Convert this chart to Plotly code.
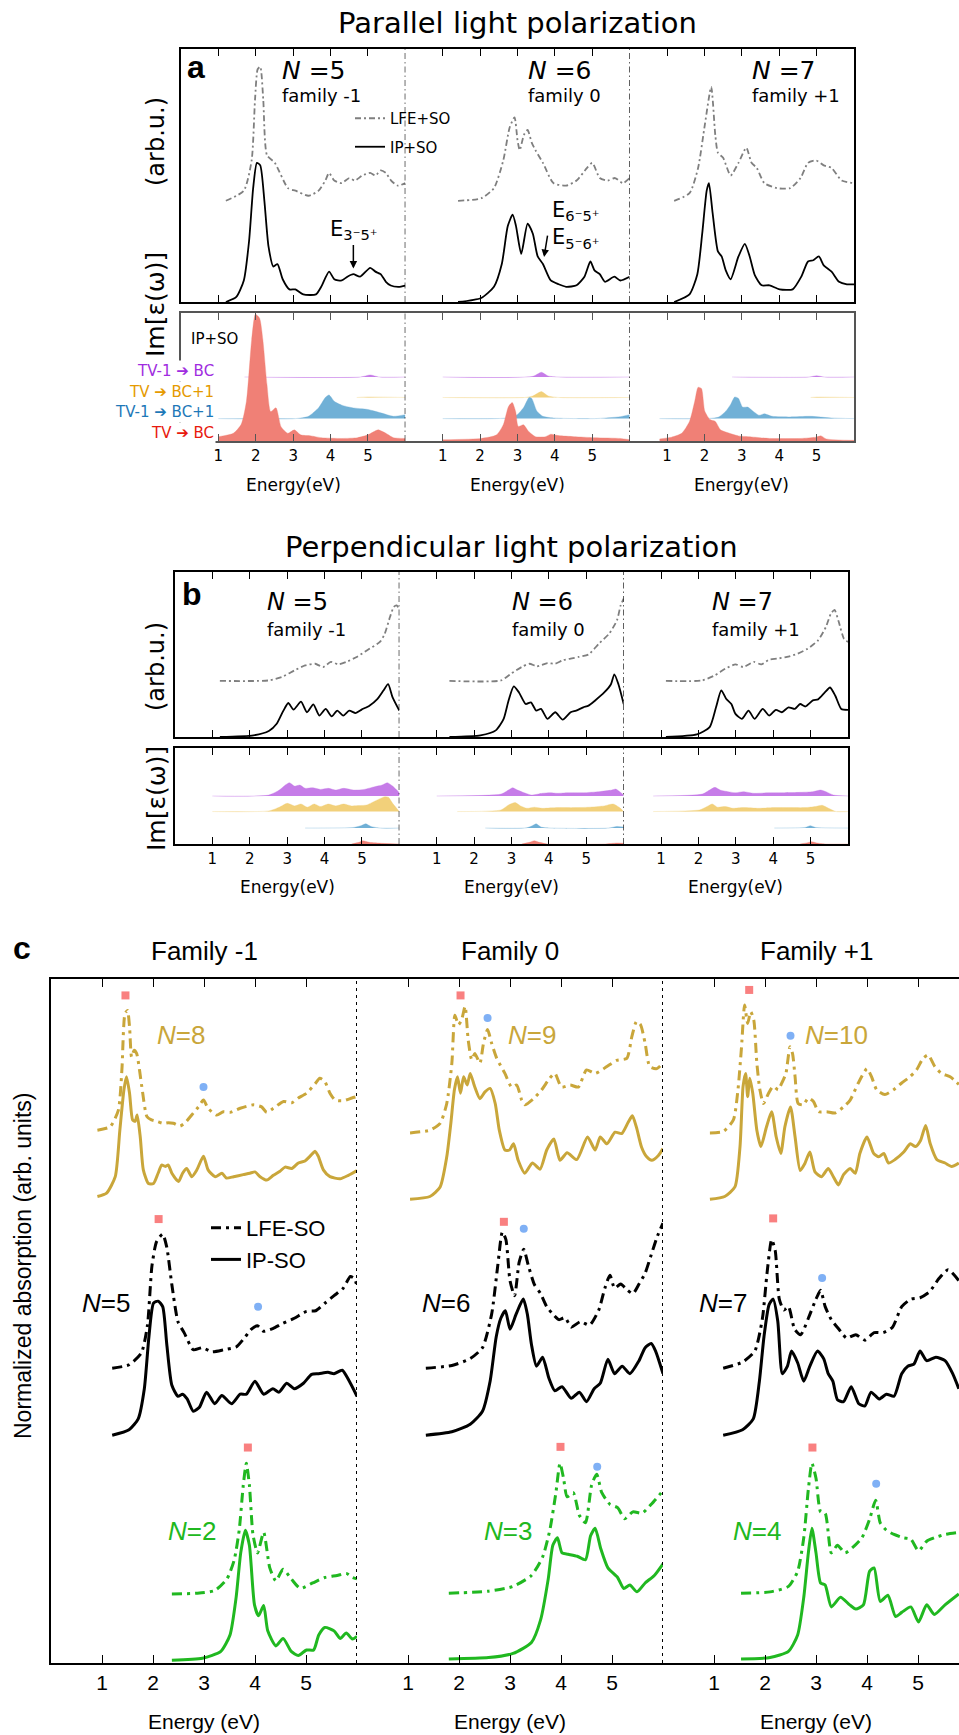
import plotly.graph_objects as go

W, H = 959, 1735
COND = "DejaVu Sans, sans-serif"
HELV = "Liberation Sans, Arial, Helvetica, sans-serif"

# ---------------- data: panel a (parallel), top boxes (energy eV, normalized intensity) -------------
a5_lfe = [(1.2,0.40),(1.68,0.44),(1.89,0.56),(1.98,0.80),(2.05,0.92),(2.12,0.93),(2.2,0.80),(2.3,0.58),
          (2.51,0.55),(2.86,0.45),(3.06,0.44),(3.41,0.42),(3.68,0.44),(3.86,0.48),(3.96,0.51),(4.1,0.48),
          (4.3,0.47),(4.5,0.49),(4.65,0.48),(4.85,0.50),(5.06,0.51),(5.2,0.50),(5.34,0.52),(5.48,0.51),
          (5.62,0.48),(5.8,0.46),(6.0,0.47)]
a5_ip = [(1.2,0.0),(1.48,0.02),(1.68,0.085),(1.82,0.24),(1.93,0.45),(2.03,0.55),(2.12,0.54),(2.23,0.40),
         (2.34,0.22),(2.47,0.14),(2.58,0.15),(2.72,0.09),(2.9,0.05),(3.06,0.05),(3.27,0.03),(3.61,0.03),
         (3.75,0.06),(3.96,0.12),(4.1,0.09),(4.3,0.085),(4.45,0.10),(4.61,0.11),(4.79,0.10),(5.06,0.135),
         (5.2,0.12),(5.34,0.11),(5.48,0.08),(5.61,0.065),(5.82,0.06),(6.0,0.065)]
a6_lfe = [(1.41,0.40),(2.03,0.41),(2.37,0.45),(2.62,0.56),(2.79,0.69),(2.92,0.73),(3.0,0.64),(3.06,0.60),
          (3.17,0.66),(3.27,0.68),(3.38,0.63),(3.48,0.60),(3.68,0.55),(3.96,0.47),(4.3,0.46),(4.58,0.48),
          (4.86,0.53),(5.0,0.55),(5.2,0.49),(5.41,0.48),(5.61,0.49),(5.82,0.47),(6.0,0.49)]
a6_ip = [(1.41,0.0),(2.03,0.016),(2.37,0.06),(2.58,0.15),(2.74,0.30),(2.87,0.345),(2.96,0.30),(3.10,0.19),
         (3.27,0.31),(3.41,0.27),(3.54,0.18),(3.68,0.15),(3.89,0.085),(4.1,0.07),(4.3,0.06),(4.58,0.066),
         (4.79,0.10),(4.95,0.16),(5.06,0.125),(5.2,0.11),(5.34,0.08),(5.59,0.10),(5.75,0.085),(6.0,0.10)]
a7_lfe = [(1.19,0.40),(1.6,0.43),(1.83,0.53),(2.01,0.70),(2.18,0.85),(2.29,0.66),(2.36,0.59),(2.5,0.57),
          (2.7,0.50),(2.91,0.55),(3.12,0.61),(3.26,0.55),(3.4,0.53),(3.6,0.47),(3.94,0.45),(4.29,0.45),
          (4.57,0.49),(4.77,0.55),(4.98,0.56),(5.19,0.54),(5.4,0.53),(5.67,0.48),(6.0,0.47)]
a7_ip = [(1.19,0.0),(1.6,0.03),(1.81,0.11),(1.94,0.27),(2.06,0.44),(2.12,0.47),(2.22,0.35),(2.36,0.20),
         (2.46,0.18),(2.57,0.125),(2.7,0.09),(2.91,0.18),(3.08,0.23),(3.21,0.18),(3.35,0.105),(3.53,0.066),
         (3.74,0.066),(4.01,0.05),(4.36,0.05),(4.59,0.10),(4.77,0.16),(4.91,0.165),(5.06,0.18),(5.19,0.145),
         (5.4,0.12),(5.6,0.08),(5.81,0.07),(6.0,0.07)]

# panel a, bottom boxes: transition-resolved contributions (offset above their own baseline)
a5_tvbc = [(1.0,0.034),(1.4,0.06),(1.61,0.13),(1.75,0.31),(1.89,0.79),(1.99,0.99),(2.1,0.96),(2.19,0.79),
           (2.3,0.44),(2.4,0.23),(2.54,0.26),(2.68,0.11),(2.86,0.06),(3.03,0.087),(3.2,0.048),(3.48,0.04),
           (3.75,0.026),(4.3,0.02),(4.72,0.026),(5.0,0.048),(5.27,0.087),(5.48,0.06),(5.68,0.026),(6.0,0.02)]
a5_tv1bc1 = [(1.0,0.0),(3.06,0.0),(3.41,0.018),(3.68,0.085),(3.86,0.165),(3.96,0.185),(4.1,0.135),(4.3,0.105),
             (4.58,0.085),(5.0,0.071),(5.34,0.045),(5.68,0.018),(6.0,0.031)]
a5_tvbc1 = [(4.7,0.0),(5.0,0.004),(6.0,0.0)]
a5_tv1bc = [(1.7,0.0),(4.8,0.0),(5.06,0.016),(5.3,0.0),(6.0,0.0)]
a6_tvbc = [(1.0,0.01),(2.03,0.02),(2.44,0.048),(2.62,0.127),(2.76,0.27),(2.86,0.30),(2.95,0.23),(3.02,0.114),
           (3.16,0.127),(3.3,0.074),(3.48,0.034),(3.75,0.034),(3.89,0.053),(4.1,0.042),(4.51,0.034),
           (5.06,0.026),(5.75,0.02),(6.0,0.01)]
a6_tv1bc1 = [(1.0,0.0),(2.72,0.005),(2.99,0.031),(3.16,0.085),(3.31,0.165),(3.38,0.158),(3.52,0.058),
             (3.68,0.018),(3.96,0.005),(5.06,0.0),(5.75,0.015),(6.0,0.031)]
a6_tvbc1 = [(1.0,0.0),(3.2,0.0),(3.41,0.012),(3.64,0.046),(3.82,0.012),(4.1,0.0),(6.0,0.0)]
a6_tv1bc = [(1.0,0.0),(3.41,0.005),(3.64,0.037),(3.82,0.008),(4.1,0.0),(6.0,0.0)]
a7_tvbc = [(0.8,0.016),(1.12,0.03),(1.39,0.06),(1.6,0.153),(1.74,0.31),(1.83,0.42),(1.92,0.41),(2.01,0.233),
           (2.15,0.167),(2.29,0.153),(2.43,0.087),(2.61,0.066),(2.91,0.04),(3.19,0.034),(3.74,0.02),
           (4.57,0.02),(4.98,0.03),(5.12,0.04),(5.26,0.016),(6.0,0.005)]
a7_tv1bc1 = [(0.8,0.0),(2.36,0.01),(2.57,0.058),(2.7,0.111),(2.81,0.169),(2.91,0.158),(3.02,0.09),(3.16,0.09),
             (3.3,0.058),(3.46,0.026),(3.6,0.037),(3.81,0.018),(4.29,0.013),(4.84,0.018),(5.39,0.005),(6.0,0.0)]
a7_tvbc1 = [(4.84,0.0),(5.0,0.003),(6.0,0.0)]
a7_tv1bc = [(2.74,0.0),(4.8,0.0),(5.0,0.01),(5.2,0.0),(6.0,0.0)]

# ---------------- panel b (perpendicular) ----------------
b5_lfe = [(1.2,0.34),(2.51,0.343),(2.86,0.364),(3.2,0.404),(3.48,0.434),(3.75,0.444),(3.96,0.424),(4.17,0.455),
          (4.37,0.44),(4.58,0.455),(4.86,0.485),(5.13,0.525),(5.48,0.576),(5.61,0.626),(5.75,0.727),
          (5.85,0.788),(5.93,0.798),(6.0,0.768)]
b5_ip = [(1.2,0.0),(2.1,0.01),(2.51,0.036),(2.72,0.08),(2.9,0.16),(3.03,0.206),(3.17,0.166),(3.37,0.214),
         (3.53,0.15),(3.7,0.198),(3.86,0.13),(4.03,0.17),(4.19,0.125),(4.34,0.16),(4.5,0.13),(4.66,0.16),
         (4.83,0.145),(4.99,0.166),(5.2,0.19),(5.41,0.23),(5.57,0.28),(5.7,0.32),(5.82,0.24),(6.0,0.16)]
b6_lfe = [(1.34,0.34),(2.72,0.343),(2.99,0.384),(3.27,0.424),(3.48,0.444),(3.68,0.428),(3.96,0.448),(4.17,0.444),
          (4.37,0.465),(4.58,0.475),(4.79,0.485),(5.06,0.50),(5.34,0.566),(5.61,0.626),(5.82,0.707),
          (5.92,0.798),(6.0,0.838)]
b6_ip = [(1.34,0.0),(2.17,0.01),(2.58,0.04),(2.79,0.11),(2.92,0.22),(3.06,0.307),(3.2,0.27),(3.38,0.20),
         (3.52,0.21),(3.66,0.16),(3.79,0.17),(3.96,0.11),(4.17,0.15),(4.37,0.105),(4.58,0.15),(4.73,0.16),
         (4.92,0.18),(5.06,0.19),(5.23,0.22),(5.48,0.27),(5.66,0.32),(5.75,0.38),(5.86,0.32),(6.0,0.20)]
b7_lfe = [(1.13,0.34),(2.1,0.343),(2.44,0.374),(2.72,0.414),(2.99,0.44),(3.2,0.424),(3.48,0.455),(3.68,0.44),
          (3.89,0.469),(4.1,0.475),(4.37,0.485),(4.65,0.505),(4.92,0.535),(5.2,0.586),(5.41,0.667),
          (5.54,0.747),(5.64,0.77),(5.75,0.70),(5.89,0.596),(6.0,0.576)]
b7_ip = [(1.13,0.0),(1.96,0.016),(2.3,0.06),(2.47,0.18),(2.61,0.283),(2.74,0.232),(2.88,0.20),(2.99,0.14),
         (3.16,0.11),(3.34,0.16),(3.5,0.11),(3.72,0.17),(3.89,0.13),(4.07,0.165),(4.23,0.15),(4.41,0.18),
         (4.58,0.17),(4.72,0.20),(4.86,0.185),(5.06,0.222),(5.2,0.228),(5.38,0.27),(5.52,0.30),(5.66,0.25),
         (5.82,0.17),(6.0,0.165)]

b5_tv1bc = [(1.0,0.0),(2.51,0.01),(2.79,0.062),(2.95,0.114),(3.06,0.138),(3.2,0.103),(3.34,0.114),(3.48,0.08),
            (3.68,0.086),(3.89,0.069),(4.1,0.08),(4.3,0.062),(4.51,0.08),(4.79,0.062),(5.06,0.069),(5.34,0.097),
            (5.54,0.114),(5.68,0.138),(5.82,0.103),(6.0,0.034)]
b5_tvbc1 = [(1.0,0.0),(2.51,0.007),(2.79,0.045),(3.0,0.086),(3.2,0.059),(3.37,0.079),(3.54,0.045),(3.72,0.079),
            (3.89,0.052),(4.1,0.079),(4.3,0.059),(4.51,0.079),(4.72,0.059),(4.92,0.062),(5.13,0.069),
            (5.41,0.121),(5.61,0.155),(5.71,0.148),(5.82,0.086),(6.0,0.0)]
b5_tv1bc1 = [(3.48,0.0),(4.79,0.007),(4.99,0.027),(5.1,0.044),(5.24,0.017),(5.48,0.0),(6.0,0.0)]
b5_tvbc = [(4.72,0.0),(4.92,0.017),(5.02,0.034),(5.2,0.017),(5.55,0.007),(6.0,0.0)]
b6_tv1bc = [(1.0,0.0),(2.72,0.02),(2.92,0.062),(3.03,0.086),(3.16,0.062),(3.34,0.034),(3.54,0.01),(3.82,0.028),
            (4.03,0.034),(4.23,0.028),(4.51,0.034),(4.92,0.034),(5.34,0.045),(5.68,0.062),(5.79,0.072),(6.0,0.01)]
b6_tvbc1 = [(1.55,0.0),(2.72,0.017),(2.92,0.069),(3.1,0.093),(3.24,0.059),(3.41,0.034),(3.61,0.045),(3.82,0.034),
            (4.23,0.041),(4.65,0.041),(5.06,0.045),(5.48,0.059),(5.72,0.079),(5.89,0.041),(6.0,0.0)]
b6_tv1bc1 = [(2.3,0.0),(3.41,0.003),(3.57,0.027),(3.66,0.044),(3.79,0.01),(4.03,0.0),(5.6,0.0),(5.82,0.017),(6.0,0.01)]
b6_tvbc = [(3.27,0.0),(3.48,0.017),(3.61,0.034),(3.75,0.017),(3.96,0.0),(5.48,0.0),(5.82,0.01),(6.0,0.007)]
b7_tv1bc = [(0.79,0.0),(2.1,0.02),(2.3,0.062),(2.44,0.09),(2.58,0.062),(2.79,0.045),(2.99,0.034),(3.2,0.045),
            (3.48,0.028),(3.89,0.034),(4.3,0.034),(4.72,0.038),(5.06,0.045),(5.27,0.062),(5.41,0.045),
            (5.61,0.01),(6.0,0.0)]
b7_tvbc1 = [(0.79,0.0),(2.03,0.017),(2.23,0.052),(2.37,0.079),(2.51,0.045),(2.72,0.052),(2.92,0.034),(3.2,0.041),
            (3.61,0.034),(4.03,0.041),(4.44,0.041),(4.86,0.041),(5.13,0.052),(5.31,0.065),(5.48,0.034),
            (5.68,0.0),(6.0,0.0)]
b7_tv1bc1 = [(4.03,0.0),(4.86,0.007),(4.99,0.024),(5.13,0.007),(6.0,0.0)]
b7_tvbc = [(4.72,0.0),(4.92,0.014),(5.03,0.024),(5.17,0.01),(5.41,0.0),(6.0,0.0)]

# ---------------- panel c (normalized absorption, stacked) ----------------
c8_lfe = [(0.91,0.779),(1.16,0.784),(1.32,0.808),(1.39,0.867),(1.45,0.949),(1.5,0.954),(1.54,0.93),(1.58,0.886),
          (1.63,0.896),(1.68,0.891),(1.78,0.843),(1.88,0.799),(1.97,0.794),(2.07,0.792),(2.2,0.789),(2.3,0.79),
          (2.4,0.789),(2.53,0.785),(2.63,0.79),(2.79,0.804),(2.89,0.813),(2.99,0.823),(3.08,0.811),(3.25,0.801),
          (3.38,0.806),(3.51,0.805),(3.71,0.811),(3.97,0.816),(4.13,0.813),(4.23,0.805),(4.36,0.811),(4.56,0.821),
          (4.72,0.819),(4.85,0.826),(5.01,0.833),(5.18,0.847),(5.27,0.855),(5.37,0.85),(5.47,0.833),(5.57,0.823),
          (5.73,0.822),(5.9,0.826),(6.0,0.828)]
c8_ip = [(0.91,0.682),(1.09,0.687),(1.26,0.711),(1.35,0.779),(1.43,0.838),(1.48,0.857),(1.54,0.833),(1.6,0.794),
         (1.65,0.792),(1.69,0.801),(1.75,0.769),(1.81,0.721),(1.91,0.701),(2.01,0.701),(2.1,0.716),(2.17,0.728),
         (2.24,0.726),(2.3,0.728),(2.37,0.716),(2.5,0.704),(2.58,0.716),(2.66,0.723),(2.76,0.711),(2.86,0.721),
         (2.99,0.741),(3.08,0.721),(3.22,0.711),(3.35,0.716),(3.44,0.709),(3.58,0.711),(3.77,0.714),(3.9,0.716),
         (4.0,0.718),(4.1,0.711),(4.23,0.706),(4.36,0.713),(4.49,0.719),(4.59,0.725),(4.72,0.723),(4.85,0.731),
         (4.98,0.734),(5.08,0.741),(5.18,0.748),(5.24,0.741),(5.34,0.721),(5.47,0.711),(5.67,0.708),(5.83,0.713),
         (6.0,0.72)]
c5_lfe = [(1.2,0.431),(1.53,0.436),(1.77,0.453),(1.89,0.493),(1.98,0.581),(2.07,0.616),(2.19,0.627),(2.27,0.608),
          (2.37,0.553),(2.49,0.499),(2.61,0.483),(2.79,0.458),(2.97,0.461),(3.15,0.455),(3.39,0.458),(3.63,0.462),
          (3.81,0.477),(3.93,0.488),(4.05,0.493),(4.17,0.485),(4.35,0.489),(4.53,0.496),(4.77,0.504),(5.01,0.514),
          (5.19,0.515),(5.37,0.526),(5.55,0.537),(5.73,0.548),(5.87,0.565),(5.95,0.562),(6.0,0.551)]
c5_ip = [(1.2,0.333),(1.53,0.341),(1.71,0.357),(1.83,0.401),(1.92,0.477),(2.01,0.526),(2.1,0.529),(2.19,0.521),
         (2.27,0.466),(2.37,0.406),(2.49,0.39),(2.58,0.393),(2.67,0.386),(2.79,0.368),(2.91,0.374),(3.05,0.396),
         (3.21,0.379),(3.35,0.391),(3.54,0.379),(3.71,0.393),(3.83,0.393),(4.0,0.412),(4.17,0.393),(4.35,0.401),
         (4.47,0.396),(4.62,0.409),(4.77,0.401),(4.95,0.409),(5.11,0.422),(5.25,0.423),(5.43,0.425),(5.55,0.423),
         (5.71,0.428),(5.85,0.412),(6.0,0.39)]
c2_lfe = [(2.37,0.101),(2.85,0.102),(3.21,0.106),(3.45,0.123),(3.59,0.15),(3.69,0.194),(3.77,0.26),(3.83,0.292),
          (3.89,0.26),(3.96,0.188),(4.05,0.161),(4.17,0.191),(4.29,0.139),(4.41,0.12),(4.55,0.137),(4.71,0.123),
          (4.89,0.109),(5.13,0.117),(5.37,0.125),(5.61,0.128),(5.79,0.131),(5.91,0.125),(6.0,0.123)]
c2_ip = [(2.37,0.004),(2.97,0.007),(3.33,0.017),(3.51,0.041),(3.63,0.096),(3.72,0.161),(3.81,0.194),(3.89,0.172),
         (3.99,0.085),(4.07,0.069),(4.17,0.084),(4.25,0.047),(4.41,0.025),(4.55,0.036),(4.71,0.017),(4.85,0.011),
         (5.01,0.019),(5.15,0.019),(5.25,0.041),(5.37,0.052),(5.55,0.047),(5.67,0.036),(5.79,0.044),(5.91,0.035),
         (6.0,0.039)]
c9_lfe = [(1.04,0.775),(1.43,0.779),(1.63,0.789),(1.76,0.818),(1.86,0.877),(1.92,0.947),(1.99,0.933),(2.05,0.94),
          (2.12,0.96),(2.18,0.911),(2.25,0.882),(2.31,0.891),(2.41,0.877),(2.48,0.906),(2.56,0.926),(2.64,0.906),
          (2.74,0.884),(2.9,0.862),(3.03,0.842),(3.13,0.845),(3.23,0.823),(3.29,0.816),(3.46,0.825),(3.62,0.838),
          (3.78,0.855),(3.88,0.862),(4.01,0.842),(4.18,0.845),(4.34,0.842),(4.5,0.867),(4.67,0.862),(4.9,0.872),
          (5.09,0.881),(5.29,0.884),(5.39,0.916),(5.48,0.938),(5.56,0.933),(5.65,0.906),(5.74,0.872),(5.88,0.869),
          (6.0,0.877)]
c9_ip = [(1.04,0.678),(1.43,0.682),(1.63,0.696),(1.76,0.74),(1.84,0.789),(1.91,0.838),(1.97,0.857),(2.03,0.833),
         (2.09,0.857),(2.16,0.845),(2.22,0.862),(2.31,0.842),(2.41,0.825),(2.51,0.835),(2.61,0.84),(2.71,0.818),
         (2.79,0.779),(2.9,0.75),(2.99,0.75),(3.07,0.759),(3.16,0.735),(3.29,0.716),(3.44,0.731),(3.59,0.722),
         (3.72,0.75),(3.86,0.766),(3.98,0.735),(4.12,0.746),(4.31,0.736),(4.52,0.769),(4.67,0.75),(4.77,0.769),
         (4.9,0.759),(5.06,0.776),(5.19,0.774),(5.32,0.791),(5.4,0.8),(5.48,0.783),(5.58,0.754),(5.68,0.74),
         (5.78,0.735),(5.91,0.742),(6.0,0.752)]
c6_lfe = [(1.35,0.431),(1.86,0.435),(2.22,0.445),(2.46,0.461),(2.64,0.51),(2.76,0.581),(2.85,0.63),(2.92,0.619),
          (3.0,0.559),(3.09,0.537),(3.18,0.586),(3.27,0.605),(3.36,0.581),(3.48,0.553),(3.6,0.54),(3.72,0.521),
          (3.84,0.51),(3.96,0.502),(4.08,0.505),(4.2,0.491),(4.38,0.499),(4.56,0.494),(4.74,0.516),(4.86,0.548),
          (4.96,0.567),(5.05,0.548),(5.17,0.554),(5.29,0.546),(5.41,0.54),(5.53,0.554),(5.65,0.57),(5.77,0.597),
          (5.89,0.624),(6.0,0.643)]
c6_ip = [(1.35,0.333),(1.86,0.338),(2.22,0.349),(2.46,0.368),(2.61,0.412),(2.73,0.477),(2.82,0.504),(2.91,0.515),
         (3.0,0.488),(3.12,0.51),(3.26,0.532),(3.34,0.51),(3.42,0.466),(3.52,0.434),(3.64,0.447),(3.76,0.417),
         (3.88,0.398),(4.02,0.404),(4.2,0.387),(4.36,0.396),(4.5,0.382),(4.65,0.401),(4.77,0.409),(4.92,0.444),
         (5.05,0.423),(5.2,0.434),(5.35,0.423),(5.53,0.442),(5.65,0.461),(5.77,0.467),(5.86,0.455),(6.0,0.423)]
c3_lfe = [(1.8,0.102),(2.58,0.105),(3.06,0.112),(3.42,0.128),(3.64,0.155),(3.78,0.194),(3.9,0.249),(3.98,0.292),
          (4.05,0.27),(4.12,0.243),(4.24,0.249),(4.36,0.216),(4.48,0.205),(4.6,0.26),(4.7,0.276),(4.8,0.249),
          (4.96,0.232),(5.11,0.227),(5.25,0.211),(5.41,0.221),(5.59,0.219),(5.77,0.232),(6.0,0.252)]
c3_ip = [(1.8,0.006),(2.58,0.008),(3.06,0.014),(3.42,0.03),(3.6,0.063),(3.75,0.123),(3.84,0.172),(3.93,0.183),
         (4.02,0.161),(4.14,0.159),(4.32,0.156),(4.48,0.151),(4.58,0.186),(4.67,0.197),(4.78,0.167),(4.92,0.139),
         (5.11,0.125),(5.23,0.109),(5.35,0.114),(5.49,0.104),(5.65,0.117),(5.83,0.128),(6.0,0.145)]
c10_lfe = [(0.92,0.775),(1.18,0.777),(1.38,0.794),(1.47,0.838),(1.54,0.901),(1.6,0.962),(1.66,0.935),(1.72,0.952),
           (1.78,0.94),(1.84,0.877),(1.9,0.838),(1.97,0.818),(2.07,0.833),(2.16,0.843),(2.26,0.838),(2.33,0.848),
           (2.41,0.862),(2.49,0.901),(2.54,0.891),(2.59,0.857),(2.65,0.818),(2.75,0.816),(2.85,0.826),(2.95,0.821),
           (3.05,0.806),(3.21,0.806),(3.37,0.804),(3.54,0.813),(3.67,0.823),(3.83,0.848),(4.0,0.869),(4.09,0.857),
           (4.19,0.838),(4.35,0.831),(4.52,0.838),(4.68,0.848),(4.84,0.857),(4.97,0.867),(5.1,0.884),(5.2,0.889),
           (5.33,0.872),(5.46,0.862),(5.63,0.857),(5.8,0.846)]
c10_ip = [(0.92,0.678),(1.21,0.682),(1.41,0.696),(1.51,0.755),(1.57,0.843),(1.62,0.862),(1.66,0.828),(1.7,0.855),
          (1.76,0.833),(1.84,0.779),(1.92,0.755),(2.03,0.784),(2.13,0.806),(2.22,0.769),(2.31,0.745),(2.39,0.784),
          (2.5,0.813),(2.59,0.769),(2.69,0.72),(2.78,0.73),(2.88,0.747),(2.98,0.718),(3.11,0.711),(3.24,0.723),
          (3.34,0.711),(3.44,0.699),(3.54,0.714),(3.67,0.723),(3.77,0.716),(3.86,0.745),(4.0,0.769),(4.13,0.745),
          (4.23,0.74),(4.33,0.745),(4.42,0.731),(4.55,0.736),(4.72,0.747),(4.85,0.759),(4.95,0.755),(5.05,0.764),
          (5.15,0.786),(5.24,0.759),(5.37,0.736),(5.53,0.731),(5.66,0.726),(5.8,0.731)]
c7_lfe = [(1.18,0.431),(1.56,0.44),(1.8,0.456),(1.95,0.504),(2.04,0.57),(2.13,0.619),(2.2,0.603),(2.28,0.532),
          (2.37,0.516),(2.46,0.521),(2.58,0.488),(2.7,0.48),(2.85,0.504),(3.0,0.532),(3.09,0.545),(3.18,0.521),
          (3.3,0.502),(3.45,0.488),(3.6,0.475),(3.78,0.48),(3.96,0.472),(4.14,0.483),(4.32,0.483),(4.5,0.491),
          (4.68,0.521),(4.86,0.532),(5.04,0.534),(5.23,0.543),(5.41,0.562),(5.59,0.575),(5.8,0.559)]
c7_ip = [(1.18,0.333),(1.56,0.341),(1.77,0.357),(1.89,0.412),(1.98,0.477),(2.08,0.524),(2.16,0.532),(2.25,0.5),
         (2.34,0.423),(2.44,0.434),(2.52,0.456),(2.64,0.439),(2.76,0.412),(2.88,0.434),(3.03,0.456),(3.15,0.445),
         (3.24,0.423),(3.33,0.412),(3.42,0.385),(3.54,0.382),(3.69,0.404),(3.84,0.379),(3.96,0.376),(4.08,0.396),
         (4.24,0.386),(4.38,0.393),(4.53,0.39),(4.68,0.423),(4.8,0.434),(4.92,0.437),(5.04,0.456),(5.17,0.442),
         (5.35,0.447),(5.53,0.442),(5.68,0.423),(5.8,0.401)]
c4_lfe = [(1.53,0.102),(2.1,0.104),(2.46,0.112),(2.64,0.134),(2.76,0.183),(2.85,0.254),(2.92,0.292),(3.0,0.27),
          (3.09,0.221),(3.18,0.219),(3.3,0.161),(3.42,0.172),(3.57,0.161),(3.72,0.169),(3.9,0.183),(4.05,0.21),
          (4.17,0.238),(4.26,0.205),(4.38,0.194),(4.53,0.188),(4.72,0.183),(4.86,0.181),(5.01,0.164),(5.17,0.178),
          (5.32,0.183),(5.53,0.188),(5.8,0.191)]
c4_ip = [(1.53,0.006),(2.1,0.008),(2.46,0.017),(2.64,0.041),(2.76,0.096),(2.85,0.161),(2.92,0.197),(3.0,0.161),
         (3.09,0.117),(3.18,0.114),(3.3,0.082),(3.48,0.096),(3.66,0.085),(3.78,0.079),(3.93,0.085),(4.05,0.134),
         (4.14,0.139),(4.26,0.09),(4.41,0.099),(4.56,0.068),(4.68,0.074),(4.86,0.082),(5.01,0.06),(5.17,0.085),
         (5.32,0.071),(5.53,0.085),(5.8,0.101)]

# marker positions (energy, normalized height): squares and circles of panel c
c_sq_fm1 = [(1.46,0.976),(2.11,0.649),(3.86,0.315)]
c_ci_fm1 = [(2.99,0.842),(4.06,0.521)]
c_sq_f0 = [(2.03,0.976),(2.88,0.645),(3.99,0.316)]
c_ci_f0 = [(2.56,0.943),(3.27,0.635),(4.71,0.287)]
c_sq_fp1 = [(1.69,0.984),(2.16,0.65),(2.93,0.315)]
c_ci_fp1 = [(2.5,0.917),(3.12,0.563),(4.18,0.262)]

tick_vals = [1, 2, 3, 4, 5]
tick_text = ["1", "2", "3", "4", "5"]
ab_names = ["<i>N</i> =5", "<i>N</i> =6", "<i>N</i> =7"]
ab_families = ["family -1", "family 0", "family +1"]
c_families = ["Family -1", "Family 0", "Family +1"]
transition_labels = ["TV-1 ➔ BC", "TV ➔ BC+1", "TV-1 ➔ BC+1", "TV ➔ BC"]

# ---------------- styling ----------------
GRAY = "#7f7f7f"
GOLD = "#C9A63A"
GREEN = "#20B820"
SQ = "#F98080"
CI = "#7FB0F5"
FILLS = {"pur": ("rgb(198,124,232)", "rgba(198,124,232,0.35)"),
         "yel": ("rgb(242,208,122)", "rgba(242,208,122,0.35)"),
         "blu": ("rgb(112,176,214)", "rgba(112,176,214,0.35)"),
         "red": ("rgb(240,128,118)", "rgba(240,128,118,0.35)")}
DD_AB = "6px,3px,2px,3px"
DD_C = "10px,5px,3px,5px"

fig = go.Figure()


def xid(n):
    return "x" if n == 1 else f"x{n}"


def yid(n):
    return "y" if n == 1 else f"y{n}"


layout_axes = {}


def set_axes(n, X0, X1, Yt, Yb, xr, show_lab, lab_font, tlen, lcol, lw, left, right):
    xk = "xaxis" if n == 1 else f"xaxis{n}"
    yk = "yaxis" if n == 1 else f"yaxis{n}"
    layout_axes[xk] = dict(domain=[X0 / W, X1 / W], range=xr, anchor=yid(n), showline=True, mirror="ticks",
                           linecolor=lcol, linewidth=lw, ticks="inside", ticklen=tlen, tickwidth=1.2,
                           tickcolor=lcol, tickvals=tick_vals, ticktext=tick_text, showticklabels=show_lab,
                           tickfont=lab_font, showgrid=False, zeroline=False, fixedrange=True)
    layout_axes[yk] = dict(domain=[1 - Yb / H, 1 - Yt / H], range=[0, 1], anchor=xid(n),
                           showline=(left or right), side=("right" if right else "left"), linecolor=lcol,
                           linewidth=lw, showticklabels=False, ticks="", showgrid=False, zeroline=False,
                           fixedrange=True)


AB_TICKFONT = dict(family=COND, size=15, color="black")
C_TICKFONT = dict(family=HELV, size=21, color="black")

a_x = [181, 405.33, 629.67, 854]
b_x = [175, 399.33, 623.67, 848]
c_x = [51, 357, 663, 959]
for i in range(3):
    set_axes(1 + i, a_x[i], a_x[i + 1], 49, 302, [0, 6], False, AB_TICKFONT, 7, "black", 1.5, i == 0, i == 2)
    set_axes(4 + i, a_x[i], a_x[i + 1], 313, 441, [0, 6], True, AB_TICKFONT, 7, "#555555", 2, i == 0, i == 2)
    set_axes(7 + i, b_x[i], b_x[i + 1], 572, 737, [0, 6], False, AB_TICKFONT, 7, "black", 1.5, i == 0, i == 2)
    set_axes(10 + i, b_x[i], b_x[i + 1], 748, 844, [0, 6], True, AB_TICKFONT, 7, "black", 2, i == 0, i == 2)
    xr = [0, 6] if i < 2 else [0, (c_x[3] - c_x[2]) / 51.0]
    set_axes(13 + i, c_x[i], c_x[i + 1], 979, 1663, xr, True, C_TICKFONT, 8, "black", 1.5, i == 0, False)


def line(n, pts, color, width, dash=None, name=None, legend=None, show=False, group=None):
    fig.add_trace(go.Scatter(
        x=[p[0] for p in pts], y=[p[1] for p in pts], mode="lines",
        line=dict(color=color, width=width, dash=dash, shape="spline", smoothing=0.6),
        xaxis=xid(n), yaxis=yid(n), showlegend=show, name=name, legend=legend,
        legendgroup=group, hoverinfo="skip"))


def band(n, pts, base, key):
    fc, lc = FILLS[key]
    xs = [p[0] for p in pts]
    fig.add_trace(go.Scatter(x=[xs[0], xs[-1]], y=[base, base], mode="lines", line=dict(width=0, color=lc),
                             xaxis=xid(n), yaxis=yid(n), showlegend=False, hoverinfo="skip"))
    fig.add_trace(go.Scatter(x=xs, y=[base + p[1] for p in pts], mode="lines", fill="tonexty", fillcolor=fc,
                             line=dict(color=lc, width=1, shape="spline", smoothing=0.6),
                             xaxis=xid(n), yaxis=yid(n), showlegend=False, hoverinfo="skip"))


def marks(n, pts, symbol, color, size):
    fig.add_trace(go.Scatter(x=[p[0] for p in pts], y=[p[1] for p in pts], mode="markers",
                             marker=dict(symbol=symbol, color=color, size=size, line=dict(width=0)),
                             xaxis=xid(n), yaxis=yid(n), showlegend=False, hoverinfo="skip"))


# panel a
a_top = [(a5_lfe, a5_ip), (a6_lfe, a6_ip), (a7_lfe, a7_ip)]
for i, (lfe, ip) in enumerate(a_top):
    line(1 + i, lfe, GRAY, 1.8, DD_AB, "LFE+SO", "legend", i == 0, "g_lfe")
    line(1 + i, ip, "black", 1.8, None, "IP+SO", "legend", i == 0, "g_ip")
a_bot = [(a5_tvbc, a5_tv1bc1, a5_tvbc1, a5_tv1bc), (a6_tvbc, a6_tv1bc1, a6_tvbc1, a6_tv1bc),
         (a7_tvbc, a7_tv1bc1, a7_tvbc1, a7_tv1bc)]
for i, (r, bl, yl, pu) in enumerate(a_bot):
    band(4 + i, pu, 0.50, "pur")
    band(4 + i, yl, 0.34, "yel")
    band(4 + i, bl, 0.175, "blu")
    band(4 + i, r, 0.0, "red")

# panel b
b_top = [(b5_lfe, b5_ip), (b6_lfe, b6_ip), (b7_lfe, b7_ip)]
for i, (lfe, ip) in enumerate(b_top):
    line(7 + i, lfe, GRAY, 1.8, DD_AB)
    line(7 + i, ip, "black", 1.8)
b_bot = [(b5_tv1bc, b5_tvbc1, b5_tv1bc1, b5_tvbc), (b6_tv1bc, b6_tvbc1, b6_tv1bc1, b6_tvbc),
         (b7_tv1bc, b7_tvbc1, b7_tv1bc1, b7_tvbc)]
for i, (pu, yl, bl, r) in enumerate(b_bot):
    band(10 + i, pu, 0.50, "pur")
    band(10 + i, yl, 0.338, "yel")
    band(10 + i, bl, 0.166, "blu")
    band(10 + i, r, 0.0, "red")

# panel c
c_sets = [[(c8_lfe, c8_ip, GOLD), (c5_lfe, c5_ip, "black"), (c2_lfe, c2_ip, GREEN)],
          [(c9_lfe, c9_ip, GOLD), (c6_lfe, c6_ip, "black"), (c3_lfe, c3_ip, GREEN)],
          [(c10_lfe, c10_ip, GOLD), (c7_lfe, c7_ip, "black"), (c4_lfe, c4_ip, GREEN)]]
for i, sets in enumerate(c_sets):
    for lfe, ip, col in sets:
        leg = (i == 0 and col == "black")
        line(13 + i, lfe, col, 3, DD_C, "LFE-SO", "legend2", leg, "c_lfe")
        line(13 + i, ip, col, 3, None, "IP-SO", "legend2", leg, "c_ip")
for i, (sq, ci) in enumerate([(c_sq_fm1, c_ci_fm1), (c_sq_f0, c_ci_f0), (c_sq_fp1, c_ci_fp1)]):
    marks(13 + i, sq, "square", SQ, 8)
    marks(13 + i, ci, "circle", CI, 8)

# ---------------- shapes: dividers ----------------
shapes = []
for n in (1, 2, 4, 5, 7, 8, 10, 11):
    shapes.append(dict(type="line", xref=xid(n), yref=f"{yid(n)} domain", x0=6, x1=6, y0=0, y1=1,
                       line=dict(color="black", width=1.2, dash="6px,3px,1.5px,3px")))
for n in (13, 14):
    shapes.append(dict(type="line", xref=xid(n), yref=f"{yid(n)} domain", x0=6, x1=6, y0=0, y1=1,
                       line=dict(color="black", width=2, dash="3px,4px")))

# ---------------- annotations ----------------
ann = []


def txt(text, x, y, size, family=COND, color="black", xanchor="center", yanchor="middle", xref="paper",
        yref="paper", angle=0, bold=False, bg=None):
    d = dict(text=(f"<b>{text}</b>" if bold else text), x=x, y=y, xref=xref, yref=yref, showarrow=False,
             xanchor=xanchor, yanchor=yanchor, textangle=angle, font=dict(size=size, family=family, color=color))
    if bg:
        d["bgcolor"] = bg
    ann.append(d)


txt("Parallel light polarization", 517 / W, 1 - 23 / H, 29)
txt("Perpendicular light polarization", 511 / W, 1 - 547 / H, 29)
txt("a", 196 / W, 1 - 67 / H, 32, family=HELV, bold=True)
txt("b", 192 / W, 1 - 594 / H, 32, family=HELV, bold=True)
txt("c", 22 / W, 1 - 948 / H, 32, family=HELV, bold=True)
txt("(arb.u.)", 156 / W, 1 - 142 / H, 24, angle=-90)
txt("Im[ε(ω)]", 156 / W, 1 - 305 / H, 25, angle=-90)
txt("(arb.u.)", 156 / W, 1 - 667 / H, 24, angle=-90)
txt("Im[ε(ω)]", 156 / W, 1 - 799 / H, 25, angle=-90)
txt("Normalized absorption (arb. units)", 23 / W, 1 - 1266 / H, 23, family=HELV, angle=-90)

for i in range(3):
    txt("Energy(eV)", (a_x[i] + a_x[i + 1]) / 2 / W, 1 - 485 / H, 17)
    txt("Energy(eV)", (b_x[i] + b_x[i + 1]) / 2 / W, 1 - 887 / H, 17)
    txt("Energy (eV)", (c_x[i] + 153) / W, 1 - 1721 / H, 21, family=HELV)
    txt(c_families[i], (c_x[i] + 153) / W, 1 - 951 / H, 26, family=HELV)

a_lab_x = [2.65, 3.24, 3.23]
b_lab_x = [2.4, 2.95, 2.3]
for i in range(3):
    txt(ab_names[i], a_lab_x[i], 0.915, 25, xanchor="left", xref=xid(1 + i), yref=yid(1 + i))
    txt(ab_families[i], a_lab_x[i], 0.815, 18, xanchor="left", xref=xid(1 + i), yref=yid(1 + i))
    txt(ab_names[i], b_lab_x[i], 0.82, 24, xanchor="left", xref=xid(7 + i), yref=yid(7 + i))
    txt(ab_families[i], b_lab_x[i], 0.65, 18, xanchor="left", xref=xid(7 + i), yref=yid(7 + i))

txt("IP+SO", 0.22, 0.8, 15, xanchor="left", xref=xid(4), yref=yid(4))
tr_cols = ["#A02CE0", "#E59A00", "#1E78B8", "#E8190E"]
tr_y = [371, 392, 412, 433]
for lab, col, yy in zip(transition_labels, tr_cols, tr_y):
    txt(lab, 216 / W, 1 - yy / H, 15, color=col, xanchor="right", bg="white")

# energy-transition labels with arrows pointing at the spectrum features
ann.append(dict(text="E<sub>3⁻5⁺</sub>", x=4.61, y=0.132, ax=4.61, ay=0.283, xref=xid(1), yref=yid(1),
                axref=xid(1), ayref=yid(1), showarrow=True, arrowhead=2, arrowsize=1, arrowwidth=1.5,
                arrowcolor="black", xanchor="center", yanchor="middle",
                font=dict(size=21, family=COND, color="black")))
txt("E<sub>6⁻5⁺</sub><br>E<sub>5⁻6⁺</sub>", 3.86, 0.305, 21, xanchor="left", xref=xid(2), yref=yid(2))
ann.append(dict(text="", x=3.71, y=0.178, ax=3.81, ay=0.268, xref=xid(2), yref=yid(2), axref=xid(2),
                ayref=yid(2), showarrow=True, arrowhead=2, arrowsize=1, arrowwidth=1.5, arrowcolor="black"))

c_names = [["<i>N</i>=8", "<i>N</i>=5", "<i>N</i>=2"], ["<i>N</i>=9", "<i>N</i>=6", "<i>N</i>=3"],
           ["<i>N</i>=10", "<i>N</i>=7", "<i>N</i>=4"]]
c_lab_pos = [[(2.04, 0.918), (0.56, 0.526), (2.25, 0.193)], [(2.93, 0.918), (1.24, 0.526), (2.46, 0.193)],
             [(2.75, 0.918), (0.66, 0.526), (1.33, 0.193)]]
c_cols = [GOLD, "black", GREEN]
for i in range(3):
    for j in range(3):
        xx, yy = c_lab_pos[i][j]
        txt(c_names[i][j], xx, yy, 26, family=HELV, color=c_cols[j], xanchor="left", xref=xid(13 + i),
            yref=yid(13 + i))

fig.update_layout(
    width=W, height=H, margin=dict(l=0, r=0, t=0, b=0),
    plot_bgcolor="white", paper_bgcolor="white",
    shapes=shapes, annotations=ann, showlegend=True,
    legend=dict(x=350 / W, y=1 - 102 / H, xanchor="left", yanchor="top", bgcolor="rgba(0,0,0,0)",
                font=dict(family=COND, size=15, color="black"), traceorder="grouped", tracegroupgap=6,
                itemwidth=30),
    legend2=dict(x=206 / W, y=1 - 1207 / H, xanchor="left", yanchor="top", bgcolor="rgba(0,0,0,0)",
                 font=dict(family=HELV, size=22, color="black"), traceorder="grouped", tracegroupgap=0,
                 itemwidth=30),
    **layout_axes,
)

fig.write_html("out.html")
